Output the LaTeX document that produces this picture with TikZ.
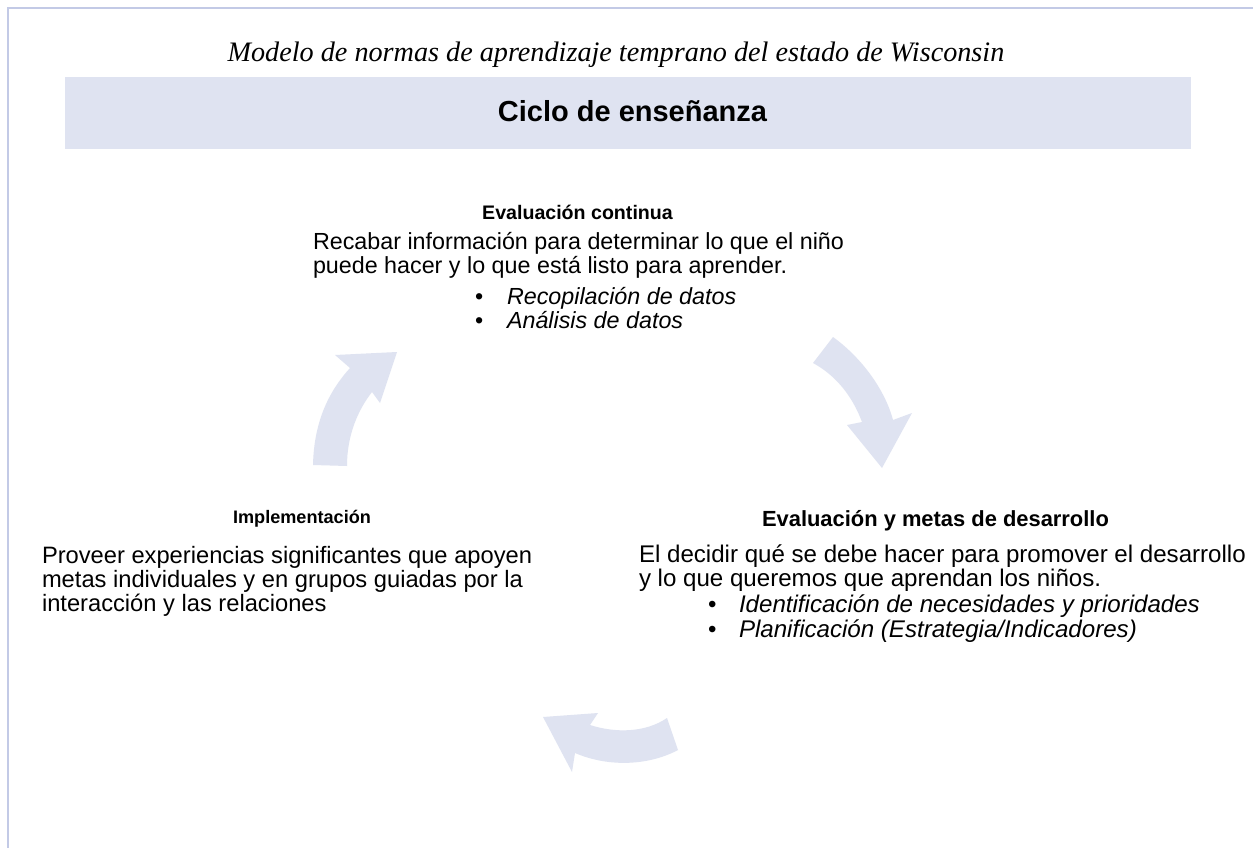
\documentclass[tikz,border=0pt]{standalone}
\usepackage{fontspec}
\setmainfont{Liberation Sans}
\newfontfamily\titleserif{Liberation Serif}
\definecolor{bandblue}{HTML}{DFE3F1}
\definecolor{arrowblue}{HTML}{DFE3F1}
\definecolor{frameline}{HTML}{C3CAE6}
\begin{document}
\begin{tikzpicture}[x=1pt,y=-1pt,
  txt/.style={inner sep=0pt, outer sep=0pt, anchor=base west},
  head/.style={inner sep=0pt, outer sep=0pt, anchor=base, font=\bfseries\fontsize{#1}{#1}\selectfont},
  cyclearrow/.style={fill=arrowblue, draw=none}
]
\useasboundingbox (0,0) rectangle (1253,848);
\fill[white] (0,0) rectangle (1253,848);
% frame
\draw[frameline, line width=2pt] (8,848) -- (8,8.5) -- (1253,8.5);
% band
\fill[bandblue] (65,77) rectangle (1191,149);
% titles
\node[inner sep=0pt, anchor=base, font=\titleserif\itshape\fontsize{28.2}{28.2}\selectfont] (title) at (616,62) {Modelo de normas de aprendizaje temprano del estado de Wisconsin};
\node[head=29] (ciclo) at (632.5,122) {Ciclo de enseñanza};

% top block
\node[head=19.6] (h1) at (577.5,219) {Evaluación continua};
\node[txt, font=\fontsize{23.3}{24}\selectfont] (t1a) at (313,249) {Recabar información para determinar lo que el niño};
\node[txt, font=\fontsize{23.3}{24}\selectfont] (t1b) at (313,273) {puede hacer y lo que está listo para aprender.};
\node[txt, font=\fontsize{23.3}{24}\selectfont] (b1a) at (475,304) {•};
\node[txt, font=\itshape\fontsize{23.3}{24}\selectfont] (t1c) at (507,304) {Recopilación de datos};
\node[txt, font=\fontsize{23.3}{24}\selectfont] (b1b) at (475,328) {•};
\node[txt, font=\itshape\fontsize{23.3}{24}\selectfont] (t1d) at (507,328) {Análisis de datos};

% left block
\node[head=18.1] (h2) at (302,523) {Implementación};
\node[txt, font=\fontsize{23.7}{24}\selectfont] (t2a) at (42,563) {Proveer experiencias significantes que apoyen};
\node[txt, font=\fontsize{23.7}{24}\selectfont] (t2b) at (42,587) {metas individuales y en grupos guiadas por la};
\node[txt, font=\fontsize{23.7}{24}\selectfont] (t2c) at (42,611) {interacción y las relaciones};

% right block
\node[head=21.9] (h3) at (935.5,526) {Evaluación y metas de desarrollo};
\node[txt, font=\fontsize{24.1}{24}\selectfont] (t3a) at (639,562) {El decidir qué se debe hacer para promover el desarrollo};
\node[txt, font=\fontsize{24.1}{24}\selectfont] (t3b) at (639,586) {y lo que queremos que aprendan los niños.};
\node[txt, font=\fontsize{24.1}{24}\selectfont] (b3a) at (708,612) {•};
\node[txt, font=\itshape\fontsize{24.1}{24}\selectfont] (t3c) at (739,612) {Identificación de necesidades y prioridades};
\node[txt, font=\fontsize{24.1}{24}\selectfont] (b3b) at (708,637) {•};
\node[txt, font=\itshape\fontsize{24.1}{24}\selectfont] (t3d) at (739,637) {Planificación (Estrategia/Indicadores)};

% cycle arrows
\fill[cyclearrow] (313,465) .. controls (314,420) and (330,390) .. (350,368)
  -- (335,355) -- (397,352) -- (380,403) -- (372,392)
  .. controls (358,410) and (347,435) .. (347,466) -- cycle;
\fill[cyclearrow] (833,337) .. controls (862,358) and (885,390) .. (893,420)
  -- (912,413) -- (882,468) -- (847,425) -- (862,422)
  .. controls (852,395) and (835,375) .. (813,363) -- cycle;
\fill[cyclearrow] (667,718) .. controls (645,733) and (615,733) .. (590,725)
  -- (598,713) -- (543,717) -- (572,772) -- (575,753)
  .. controls (610,768) and (650,765) .. (678,750) -- cycle;
\end{tikzpicture}
\end{document}
